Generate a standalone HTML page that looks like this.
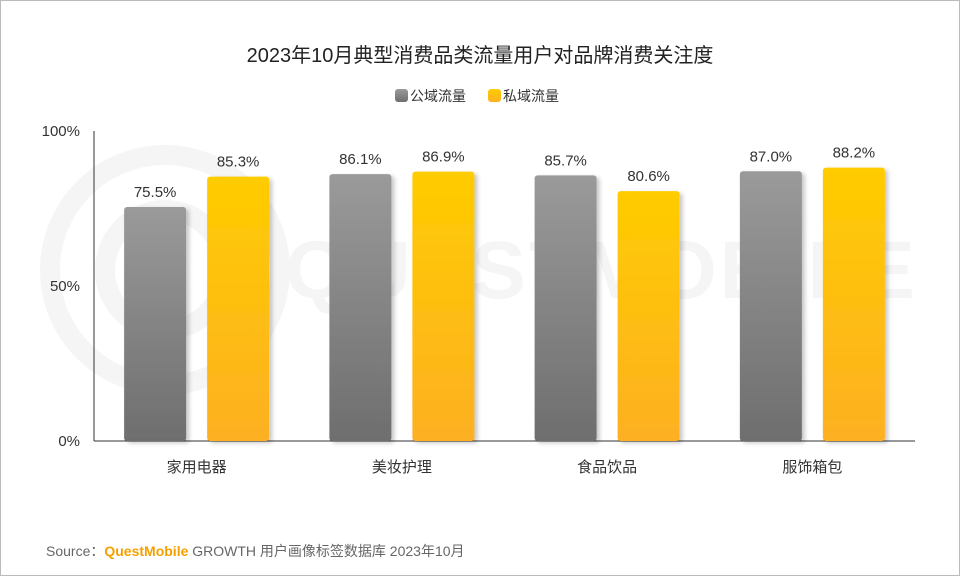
<!DOCTYPE html>
<html><head><meta charset="utf-8"><style>
html,body{margin:0;padding:0;background:#fff;}
body{width:960px;height:576px;overflow:hidden;font-family:"Liberation Sans","Noto Sans CJK SC",sans-serif;}
</style></head><body>
<svg id="c" width="960" height="576" xmlns="http://www.w3.org/2000/svg">
<defs>
<linearGradient id="gg" x1="0" y1="0" x2="0" y2="1"><stop offset="0" stop-color="#9a9a9a"/><stop offset="1" stop-color="#6e6e6e"/></linearGradient>
<linearGradient id="yg" x1="0" y1="0" x2="0" y2="1"><stop offset="0" stop-color="#ffcc00"/><stop offset="1" stop-color="#fdb022"/></linearGradient>
<filter id="sh" x="-20%" y="-5%" width="150%" height="115%"><feDropShadow dx="3" dy="2" stdDeviation="2" flood-color="#000" flood-opacity="0.22"/></filter>
</defs>
<rect x="0.5" y="0.5" width="959" height="575" fill="#fff" stroke="#bbb"/>
<g opacity="0.035" fill="none" stroke="#000" stroke-width="20">
<circle cx="165" cy="270" r="115"/><circle cx="165" cy="270" r="60"/>
<text x="285" y="298" font-size="82" fill="#000" stroke="none" font-weight="bold" textLength="630">QUESTMOBILE</text>
</g>
<text x="480" y="62" text-anchor="middle" font-size="20" fill="#222">2023年10月典型消费品类流量用户对品牌消费关注度</text>
<g id="legend"></g>
<g id="plot"></g>
<text x="46" y="556" font-size="14" fill="#666">Source：<tspan fill="#f5a000" font-weight="bold">QuestMobile</tspan> GROWTH 用户画像标签数据库 2023年10月</text>
</svg>
<script>
const categories=["家用电器","美妆护理","食品饮品","服饰箱包"];
const publicValues=[75.5,86.1,85.7,87.0];
const privateValues=[85.3,86.9,80.6,88.2];
const seriesNames=["公域流量","私域流量"];
const yTicks=[0,50,100];
const NS="http://www.w3.org/2000/svg";
const X0=94,X1=915,Y0=441,Y1=131;
const y=v=>Y0-(v/100)*(Y0-Y1);
const band=(X1-X0)/categories.length;
const xc=i=>X0+band*(i+0.5);
function mk(t,a,p){const e=document.createElementNS(NS,t);for(const k in a)e.setAttribute(k,a[k]);p.appendChild(e);return e;}
const plot=document.getElementById('plot');
const ax=mk('line',{x1:X0,y1:Y1,x2:X0,y2:Y0,stroke:'#333','stroke-width':1},plot);


const bx=mk('line',{x1:X0,y1:Y0,x2:X1,y2:Y0,stroke:'#333','stroke-width':1},plot);


yTicks.forEach(t=>{const e=mk('text',{x:80,y:y(t)+5,'text-anchor':'end','font-size':15,fill:'#333'},plot);e.textContent=t+'%';

});
const bw=62;
categories.forEach((c,i)=>{
  [[publicValues,'url(#gg)',-1],[privateValues,'url(#yg)',1]].forEach(([arr,f,s],j)=>{
    const v=arr[i];const cx=xc(i)+s*41.5;
    const r=mk('rect',{x:cx-bw/2,y:y(v),width:bw,height:Y0-y(v),fill:f,rx:3,filter:'url(#sh)'},plot);
    
    
    const l=mk('text',{x:cx,y:y(v)-10,'text-anchor':'middle','font-size':15,fill:'#333'},plot);l.textContent=v.toFixed(1)+'%';
    
    
  });
  const t=mk('text',{x:xc(i),y:472,'text-anchor':'middle','font-size':15,fill:'#333'},plot);t.textContent=c;
  
  
});
const lg=document.getElementById('legend');
[['url(#gg)',395],['url(#yg)',488]].forEach(([f,x],k)=>{
  const r=mk('rect',{x:x,y:89,width:13,height:13,rx:3,fill:f},lg);
  
  
  const t=mk('text',{x:x+15,y:101,'font-size':14,fill:'#333'},lg);t.textContent=seriesNames[k];
  
  
});
</script>
</body></html>
